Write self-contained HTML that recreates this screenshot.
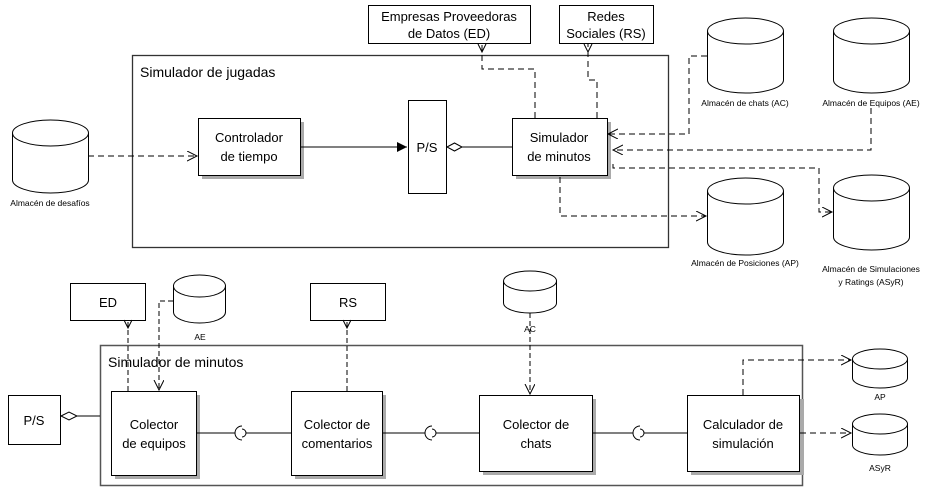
<!DOCTYPE html>
<html><head><meta charset="utf-8"><style>
html,body{margin:0;padding:0;background:#fff}
svg{display:block}
text{font-family:"Liberation Sans",sans-serif;fill:#000}
.b{font-size:13px}
.s{font-size:8.5px}
</style></head><body>
<svg width="935" height="488" viewBox="0 0 935 488" xmlns="http://www.w3.org/2000/svg">
<defs>
<marker id="oa" markerWidth="12" markerHeight="12" refX="10" refY="5" orient="auto" markerUnits="userSpaceOnUse"><path d="M0,0 L10,5 L0,10" fill="none" stroke="#000" stroke-width="1"/></marker>
<marker id="fa" markerWidth="12" markerHeight="12" refX="10" refY="5" orient="auto" markerUnits="userSpaceOnUse"><path d="M0,0 L10,5 L0,10Z" fill="#000"/></marker>
<g id="cyl"></g>
</defs>
<g fill="none" stroke="#000" stroke-width="1">
<!-- containers -->
<rect x="132.5" y="55.5" width="536" height="192" stroke="#333" stroke-width="1.3"/>
<rect x="100.5" y="345.5" width="702" height="140" stroke="#555" stroke-width="1.5"/>
<!-- top boxes -->
<rect x="368.5" y="5.5" width="162" height="38" fill="#fff"/>
<rect x="559.5" y="5.5" width="94" height="38" fill="#fff"/>
<rect x="202" y="122" width="102" height="57" fill="#aaa" stroke="none"/>
<rect x="198.5" y="118.5" width="102" height="57" fill="#fff"/>
<rect x="408.5" y="100.5" width="38" height="93" fill="#fff"/>
<rect x="516" y="122" width="95" height="57" fill="#aaa" stroke="none"/>
<rect x="512.5" y="118.5" width="95" height="57" fill="#fff"/>
<!-- cylinders top -->
<path d="M12.5,133 A38,13 0 0 1 88.5,133 V180 A38,13 0 0 1 12.5,180 Z M12.5,133 A38,13 0 0 0 88.5,133" fill="#fff"/>
<path d="M707.5,31 A38,13 0 0 1 783.5,31 V80 A38,13 0 0 1 707.5,80 Z M707.5,31 A38,13 0 0 0 783.5,31" fill="#fff"/>
<path d="M833.5,31 A38,13 0 0 1 909.5,31 V80 A38,13 0 0 1 833.5,80 Z M833.5,31 A38,13 0 0 0 909.5,31" fill="#fff"/>
<path d="M707.5,191 A38,13 0 0 1 783.5,191 V242 A38,13 0 0 1 707.5,242 Z M707.5,191 A38,13 0 0 0 783.5,191" fill="#fff"/>
<path d="M833.5,188 A38,13 0 0 1 909.5,188 V237 A38,13 0 0 1 833.5,237 Z M833.5,188 A38,13 0 0 0 909.5,188" fill="#fff"/>
<!-- top connectors -->
<line x1="88" y1="156" x2="197" y2="156" stroke-dasharray="6,4" marker-end="url(#oa)"/>
<line x1="301" y1="147" x2="407" y2="147" marker-end="url(#fa)"/>
<path d="M447,147 L454.5,143 L462,147 L454.5,151 Z" fill="#fff"/>
<line x1="462" y1="147" x2="512" y2="147"/>
<path d="M535,118 V69 H482 V44" stroke-dasharray="6,4"/>
<path d="M478,44 L482,52 L486,44"/>
<path d="M597,118 V80 H588 V44" stroke-dasharray="6,4"/>
<path d="M584,44 L588,52 L592,44"/>
<path d="M707,56 H689 V134 H608" stroke-dasharray="6,4" marker-end="url(#oa)"/>
<path d="M871,108 V150 H613" stroke-dasharray="6,4" marker-end="url(#oa)"/>
<path d="M613,164 V168 H819 V212 H832" stroke-dasharray="6,4" marker-end="url(#oa)"/>
<path d="M560,177 V216 H706" stroke-dasharray="6,4" marker-end="url(#oa)"/>
<!-- bottom boxes -->
<rect x="70.5" y="283.5" width="75" height="37" fill="#fff"/>
<rect x="310.5" y="283.5" width="75" height="37" fill="#fff"/>
<rect x="8.5" y="395.5" width="52" height="49" fill="#fff"/>
<rect x="115" y="395" width="85" height="84" fill="#aaa" stroke="none"/>
<rect x="111.5" y="391.5" width="85" height="84" fill="#fff"/>
<rect x="295" y="395" width="91" height="84" fill="#aaa" stroke="none"/>
<rect x="291.5" y="391.5" width="91" height="84" fill="#fff"/>
<rect x="483" y="399" width="113" height="76" fill="#aaa" stroke="none"/>
<rect x="479.5" y="395.5" width="113" height="76" fill="#fff"/>
<rect x="691" y="399" width="113" height="76" fill="#aaa" stroke="none"/>
<rect x="687.5" y="395.5" width="112" height="76" fill="#fff"/>
<!-- bottom cylinders -->
<path d="M173.5,286 A26,11 0 0 1 225.5,286 V312 A26,11 0 0 1 173.5,312 Z M173.5,286 A26,11 0 0 0 225.5,286" fill="#fff"/>
<path d="M503.5,281 A26.5,10 0 0 1 556.5,281 V303 A26.5,10 0 0 1 503.5,303 Z M503.5,281 A26.5,10 0 0 0 556.5,281" fill="#fff"/>
<path d="M852.5,359 A27.5,10 0 0 1 907.5,359 V378 A27.5,10 0 0 1 852.5,378 Z M852.5,359 A27.5,10 0 0 0 907.5,359" fill="#fff"/>
<path d="M852.5,424 A27.5,10 0 0 1 907.5,424 V445 A27.5,10 0 0 1 852.5,445 Z M852.5,424 A27.5,10 0 0 0 907.5,424" fill="#fff"/>
<!-- bottom connectors -->
<path d="M61,416 L69,412 L77,416 L69,420 Z" fill="#fff"/>
<line x1="77" y1="416" x2="100" y2="416"/>
<line x1="197" y1="433" x2="291" y2="433"/>
<line x1="383" y1="433" x2="479" y2="433"/>
<line x1="593" y1="433" x2="687" y2="433"/>
<g fill="#fff">
<circle cx="242" cy="433" r="4"/><path d="M242,426 A7,7 0 0 0 242,440"/>
<circle cx="432" cy="433" r="4"/><path d="M432,426 A7,7 0 0 0 432,440"/>
<circle cx="640" cy="433" r="4"/><path d="M640,426 A7,7 0 0 0 640,440"/>
</g>
<line x1="128" y1="322" x2="128" y2="391" stroke-dasharray="5,3"/>
<path d="M124,320 L128,328 L132,320"/>
<path d="M173,301 H159 V390" stroke-dasharray="5,3" marker-end="url(#oa)"/>
<line x1="347" y1="322" x2="347" y2="391" stroke-dasharray="5,3"/>
<path d="M343,320 L347,328 L351,320"/>
<line x1="530" y1="313" x2="530" y2="394" stroke-dasharray="5,3" marker-end="url(#oa)"/>
<path d="M743,395 V360 H851" stroke-dasharray="6,4" marker-end="url(#oa)"/>
<path d="M800,433 H851" stroke-dasharray="6,4" marker-end="url(#oa)"/>
</g>
<!-- text -->
<text x="140" y="77" style="font-size:14px">Simulador de jugadas</text>
<text x="108" y="367" style="font-size:14px">Simulador de minutos</text>
<g class="b" text-anchor="middle">
<text x="449" y="21">Empresas Proveedoras</text><text x="449" y="38">de Datos (ED)</text>
<text x="606" y="21">Redes</text><text x="606" y="38">Sociales (RS)</text>
<text x="249" y="142">Controlador</text><text x="249" y="161">de tiempo</text>
<text x="427" y="152">P/S</text>
<text x="559" y="142">Simulador</text><text x="559" y="161">de minutos</text>
<text x="108" y="307">ED</text>
<text x="348" y="307">RS</text>
<text x="34" y="425">P/S</text>
<text x="154" y="429">Colector</text><text x="154" y="448">de equipos</text>
<text x="337" y="429">Colector de</text><text x="337" y="448">comentarios</text>
<text x="536" y="429">Colector de</text><text x="536" y="448">chats</text>
<text x="743" y="429">Calculador de</text><text x="743" y="448">simulación</text>
</g>
<g class="s" text-anchor="middle">
<text x="50" y="206">Almacén de desafíos</text>
<text x="745" y="106">Almacén de chats (AC)</text>
<text x="871" y="106">Almacén de Equipos (AE)</text>
<text x="745" y="266">Almacén de Posiciones (AP)</text>
<text x="871" y="272">Almacén de Simulaciones</text>
<text x="871" y="285">y Ratings (ASyR)</text>
<text x="200" y="340">AE</text>
<text x="530" y="332">AC</text>
<text x="880" y="400">AP</text>
<text x="880" y="471">ASyR</text>
</g>
</svg>
</body></html>
